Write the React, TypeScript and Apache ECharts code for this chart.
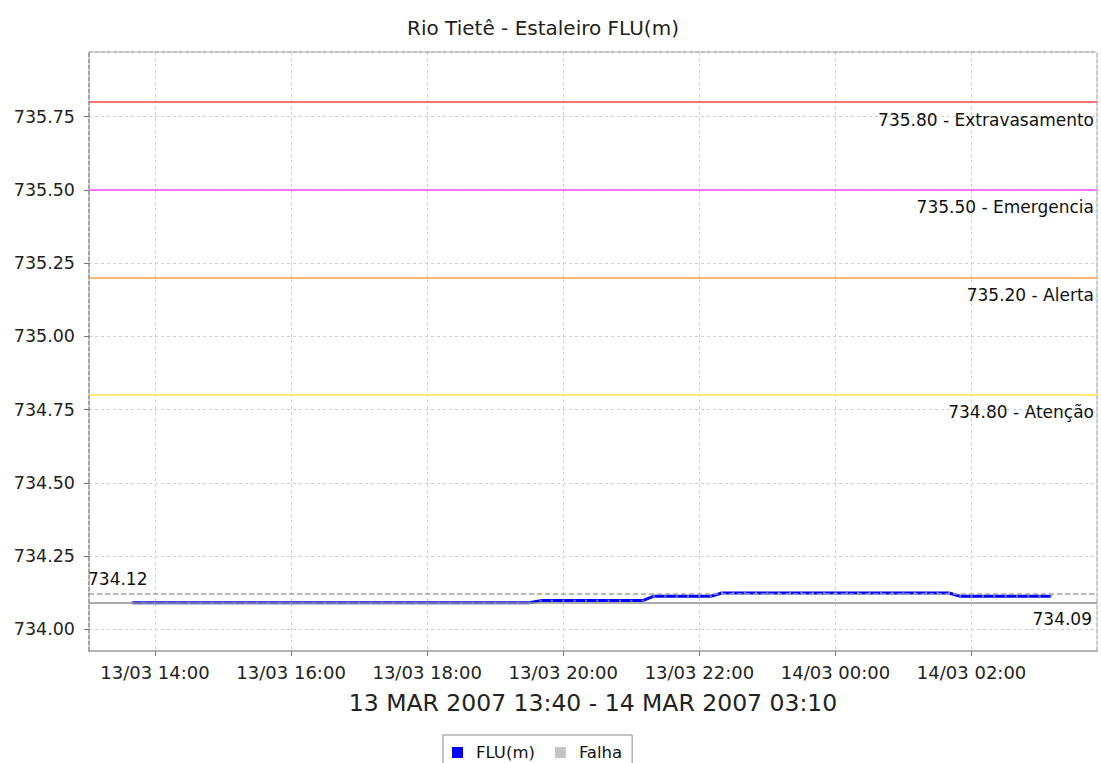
import React, { useEffect, useRef } from "react";
import * as echarts from "echarts";

const chartTitle = "Rio Tietê - Estaleiro FLU(m)";
const rangeName = "13 MAR 2007 13:40 - 14 MAR 2007 03:10";
const seriesName = "FLU(m)";
const failName = "Falha";

// reading times ("day HH:MM", March 2007)
const readTimes = [
  "13 13:40", "13 13:50",
  "13 14:00", "13 14:10", "13 14:20", "13 14:30", "13 14:40", "13 14:50",
  "13 15:00", "13 15:10", "13 15:20", "13 15:30", "13 15:40", "13 15:50",
  "13 16:00", "13 16:10", "13 16:20", "13 16:30", "13 16:40", "13 16:50",
  "13 17:00", "13 17:10", "13 17:20", "13 17:30", "13 17:40", "13 17:50",
  "13 18:00", "13 18:10", "13 18:20", "13 18:30", "13 18:40", "13 18:50",
  "13 19:00", "13 19:10", "13 19:20", "13 19:30", "13 19:40", "13 19:50",
  "13 20:00", "13 20:10", "13 20:20", "13 20:30", "13 20:40", "13 20:50",
  "13 21:00", "13 21:10", "13 21:20", "13 21:30", "13 21:40", "13 21:50",
  "13 22:00", "13 22:10", "13 22:20", "13 22:30", "13 22:40", "13 22:50",
  "13 23:00", "13 23:10", "13 23:20", "13 23:30", "13 23:40", "13 23:50",
  "14 00:00", "14 00:10", "14 00:20", "14 00:30", "14 00:40", "14 00:50",
  "14 01:00", "14 01:10", "14 01:20", "14 01:30", "14 01:40", "14 01:50",
  "14 02:00", "14 02:10", "14 02:20", "14 02:30", "14 02:40", "14 02:50",
  "14 03:00", "14 03:10",
];

// FLU(m) level readings (m)
const fluValues = [
  734.091, 734.091,
  734.091, 734.091, 734.091, 734.091, 734.091, 734.091,
  734.091, 734.091, 734.091, 734.091, 734.091, 734.091,
  734.091, 734.091, 734.091, 734.091, 734.091, 734.091,
  734.091, 734.091, 734.091, 734.091, 734.091, 734.091,
  734.091, 734.091, 734.091, 734.091, 734.091, 734.091,
  734.091, 734.091, 734.091, 734.091, 734.098, 734.098,
  734.098, 734.098, 734.098, 734.098, 734.098, 734.098,
  734.098, 734.098, 734.113, 734.113, 734.113, 734.113,
  734.113, 734.113, 734.124, 734.124, 734.124, 734.124,
  734.124, 734.124, 734.124, 734.124, 734.124, 734.124,
  734.124, 734.124, 734.124, 734.124, 734.124, 734.124,
  734.124, 734.124, 734.124, 734.124, 734.124, 734.113,
  734.113, 734.113, 734.113, 734.113, 734.113, 734.113,
  734.113, 734.113,
];

// alarm thresholds
const thresholdValues = [735.8, 735.5, 735.2, 734.8];
const thresholdNames = ["Extravasamento", "Emergencia", "Alerta", "Atenção"];
const thresholdColors = ["#ff4545", "#ff45ff", "#ffa048", "#ffe24a"];

// axis ticks
const yTicks = [734.0, 734.25, 734.5, 734.75, 735.0, 735.25, 735.5, 735.75];
const xTicks = ["13 14:00", "13 16:00", "13 18:00", "13 20:00", "13 22:00", "14 00:00", "14 02:00"];
const xRange = ["13 13:01:48", "14 03:50:36"];
const yRange = [733.926, 735.971];

const FONT = "DejaVu Sans";

function parseTime(s: string): number {
  const [d, hm] = s.split(" ");
  const p = hm.split(":").map(Number);
  return Date.UTC(2007, 2, Number(d), p[0], p[1], p[2] || 0);
}

function pad(n: number) {
  return n < 10 ? "0" + n : "" + n;
}

export default function App() {
  const ref = useRef<HTMLDivElement>(null);

  useEffect(() => {
    document.body.style.margin = "0";
    if (!ref.current) return;
    const chart = echarts.init(ref.current, undefined, { renderer: "svg" });

    const data = readTimes.map((t, i) => [parseTime(t), fluValues[i]]);
    const xMin = parseTime(xRange[0]);
    const xMax = parseTime(xRange[1]);
    const xTickVals = xTicks.map(parseTime);

    const thresholdLines = thresholdValues.map((v, i) => ({
      yAxis: v,
      lineStyle: { color: thresholdColors[i], width: 1.6, type: "solid" },
      label: {
        show: true,
        position: "insideEndBottom",
        distance: [3, 9],
        formatter: v.toFixed(2) + " - " + thresholdNames[i],
        color: "#111",
        fontFamily: FONT,
        fontSize: 17,
      },
    }));

    const option: any = {
      animation: false,
      backgroundColor: "#ffffff",
      textStyle: { fontFamily: FONT },
      title: {
        text: chartTitle,
        left: 538,
        textAlign: "center",
        top: 13,
        textStyle: { fontFamily: FONT, fontSize: 20, fontWeight: "normal", color: "#222" },
      },
      legend: {
        left: 443,
        top: 735,
        padding: [9, 10, 9, 9],
        itemGap: 20,
        itemWidth: 11,
        itemHeight: 11,
        icon: "rect",
        borderColor: "#888",
        borderWidth: 1,
        data: [
          { name: seriesName, itemStyle: { color: "#0000ff" } },
          { name: failName, itemStyle: { color: "#c4c4c4" } },
        ],
        textStyle: { fontFamily: FONT, fontSize: 16.5, color: "#111", padding: [0, 0, 0, 8] },
      },
      grid: { left: 89, right: 4, top: 52, bottom: 112, containLabel: false },
      xAxis: [
        {
          type: "value",
          min: xMin,
          max: xMax,
          name: rangeName,
          nameLocation: "middle",
          nameGap: 40,
          nameTextStyle: { fontFamily: FONT, fontSize: 23.5, color: "#222" },
          axisLine: { show: true, lineStyle: { color: "#999", width: 1.5 } },
          axisTick: { show: true, length: 5, customValues: xTickVals, lineStyle: { color: "#777" } },
          axisLabel: {
            customValues: xTickVals,
            margin: 12,
            fontFamily: FONT,
            fontSize: 18,
            color: "#222",
            formatter: (v: number) => {
              const d = new Date(v);
              return (
                pad(d.getUTCDate()) + "/" + pad(d.getUTCMonth() + 1) + " " +
                pad(d.getUTCHours()) + ":" + pad(d.getUTCMinutes())
              );
            },
          },
          splitLine: { show: true, lineStyle: { color: "#cfcfcf", type: [3, 3], width: 1 } },
        },
        {
          type: "value",
          position: "top",
          min: xMin,
          max: xMax,
          axisLine: { show: true, lineStyle: { color: "#aaa", type: [4, 2], width: 1.5 } },
          axisTick: { show: false },
          axisLabel: { show: false },
          splitLine: { show: false },
        },
      ],
      yAxis: [
        {
          type: "value",
          min: yRange[0],
          max: yRange[1],
          axisLine: { show: true, lineStyle: { color: "#888", type: [4, 2], width: 1.5 } },
          axisTick: { show: true, length: 5, customValues: yTicks, lineStyle: { color: "#777" } },
          axisLabel: {
            customValues: yTicks,
            margin: 14,
            fontFamily: FONT,
            fontSize: 17.5,
            color: "#222",
            formatter: (v: number) => v.toFixed(2),
          },
          splitLine: { show: true, lineStyle: { color: "#cfcfcf", type: [3, 3], width: 1 } },
        },
        {
          type: "value",
          position: "right",
          min: yRange[0],
          max: yRange[1],
          axisLine: { show: true, lineStyle: { color: "#bbb", type: [4, 2], width: 1.5 } },
          axisTick: { show: false },
          axisLabel: { show: false },
          splitLine: { show: false },
        },
      ],
      series: [
        {
          name: seriesName,
          type: "line",
          xAxisIndex: 0,
          yAxisIndex: 0,
          data,
          showSymbol: true,
          symbol: "rect",
          symbolSize: 2,
          itemStyle: { color: "#7f7fff" },
          lineStyle: { color: "#0000ff", width: 3 },
          markLine: {
            silent: true,
            symbol: "none",
            animation: false,
            data: [
              ...thresholdLines,
              {
                type: "max",
                lineStyle: { color: "#a0a0a0", width: 1.5, type: [5, 3] },
                label: {
                  show: true,
                  position: "insideStartTop",
                  distance: [-1, 7],
                  formatter: (p: any) => Number(p.value).toFixed(2),
                  color: "#111",
                  fontFamily: FONT,
                  fontSize: 17,
                },
              },
              {
                type: "min",
                lineStyle: { color: "#909090", width: 1.5, type: "solid" },
                label: {
                  show: true,
                  position: "insideEndBottom",
                  distance: [5, 8],
                  formatter: (p: any) => Number(p.value).toFixed(2),
                  color: "#111",
                  fontFamily: FONT,
                  fontSize: 17,
                },
              },
            ],
          },
        },
        {
          name: failName,
          type: "line",
          data: [],
          itemStyle: { color: "#c4c4c4" },
          lineStyle: { color: "#c4c4c4" },
        },
      ],
    };

    chart.setOption(option);
    return () => chart.dispose();
  }, []);

  return <div ref={ref} style={{ width: 1101, height: 763 }} />;
}
